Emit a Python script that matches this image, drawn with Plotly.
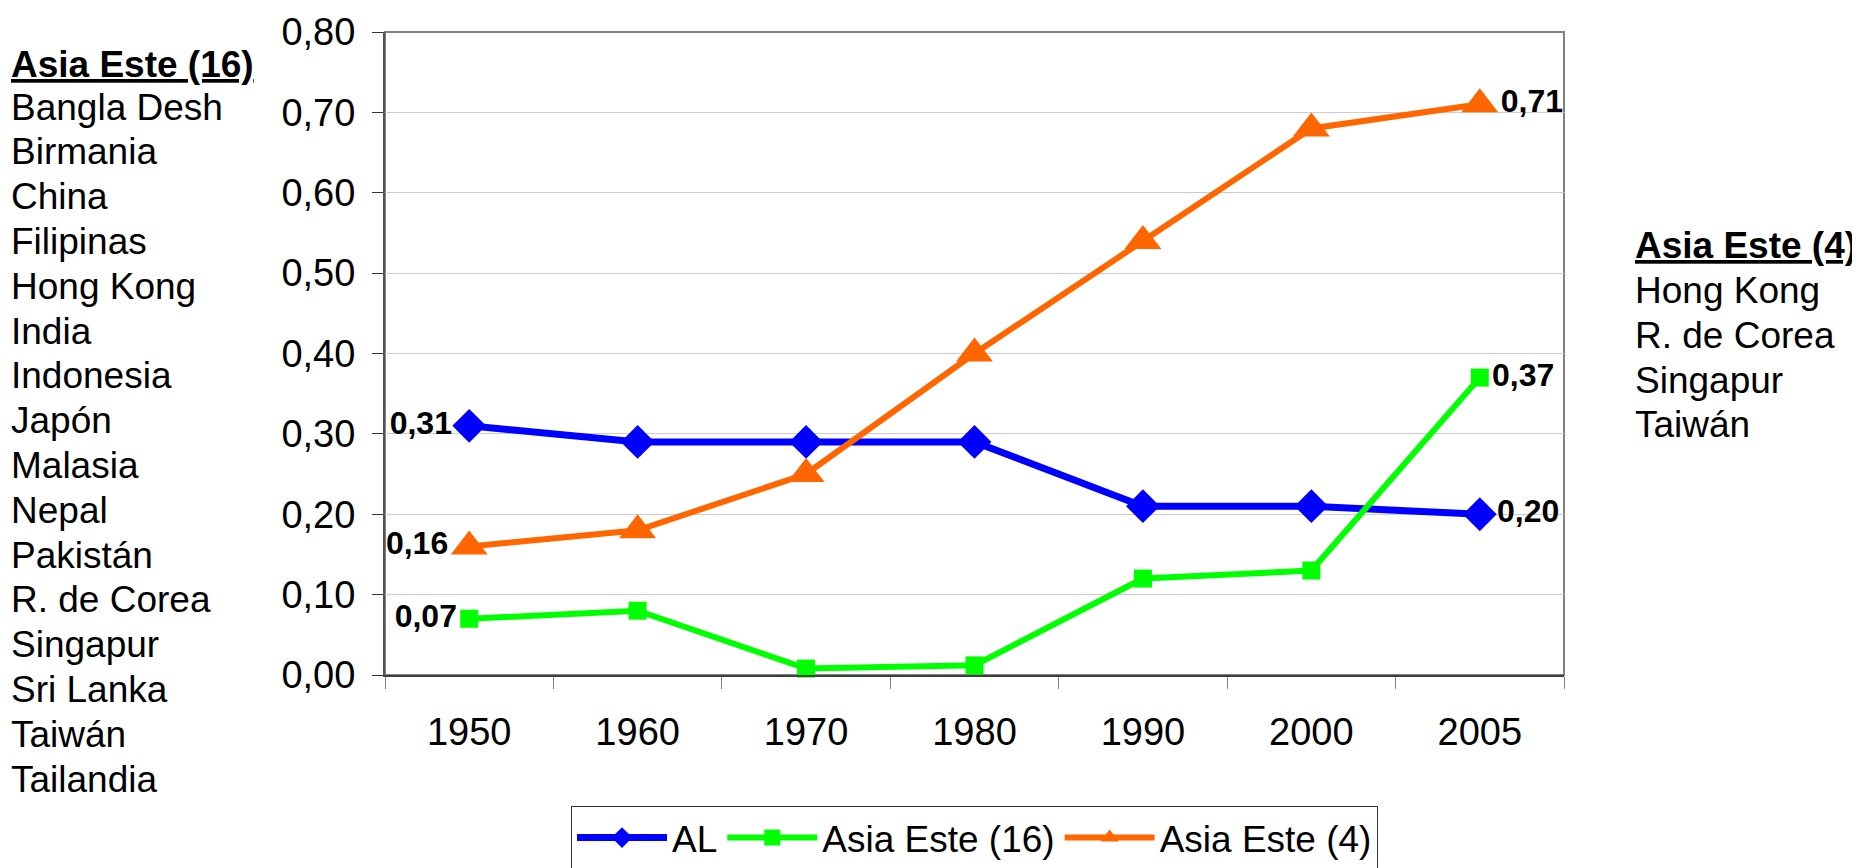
import plotly.graph_objects as go

years = ["1950", "1960", "1970", "1980", "1990", "2000", "2005"]
al = [0.31, 0.29, 0.29, 0.29, 0.21, 0.21, 0.20]
asia16 = [0.07, 0.08, 0.008, 0.012, 0.12, 0.13, 0.37]
asia4 = [0.16, 0.18, 0.25, 0.40, 0.54, 0.68, 0.71]

series_names = ["AL", "Asia Este (16)", "Asia Este (4)"]
yticks = [0.0, 0.1, 0.2, 0.3, 0.4, 0.5, 0.6, 0.7, 0.8]

left_header = "Asia Este (16)"
left_items = ["Bangla Desh", "Birmania", "China", "Filipinas", "Hong Kong", "India",
              "Indonesia", "Japón", "Malasia", "Nepal", "Pakistán", "R. de Corea",
              "Singapur", "Sri Lanka", "Taiwán", "Tailandia"]
right_header = "Asia Este (4)"
right_items = ["Hong Kong", "R. de Corea", "Singapur", "Taiwán"]

FONT = "Liberation Sans, Arial, sans-serif"
OFF = 8  # default page body margin
W, H = 1860 - OFF, 868 - OFF
# plot area in page pixels: x 385..1564, y 32..675
L = 385 - OFF
T = 32 - OFF
R = W - (1564 - OFF)
B = H - (675 - OFF)
PW, PH = W - L - R, H - T - B


def px_x(page_px):
    return (page_px - OFF - L) / PW


def px_y(page_py):
    return (H - B - (page_py - OFF)) / PH


def labels(vals):
    n = len(vals)
    return [f"{v:.2f}".replace(".", ",") if i in (0, n - 1) else "" for i, v in enumerate(vals)]


def positions(vals):
    n = len(vals)
    return ["middle left" if i == 0 else ("middle right" if i == n - 1 else "middle center") for i in range(n)]


styles = [
    dict(color="#0000FF", width=7, symbol="diamond", size=26),
    dict(color="#00FF00", width=6, symbol="square", size=18),
    dict(color="#FF6600", width=6, symbol="triangle-up", size=32),
]

fig = go.Figure()
for name, vals, st in zip(series_names, [al, asia16, asia4], styles):
    fig.add_trace(go.Scatter(
        x=years, y=vals, name=name, mode="lines+markers+text",
        line=dict(color=st["color"], width=st["width"]),
        marker=dict(symbol=st["symbol"], size=st["size"], color=st["color"]),
        text=labels(vals), textposition=positions(vals),
        textfont=dict(family=FONT, size=32, color="black", weight="bold"),
        cliponaxis=False,
    ))

TEXT_X_LEFT = 13 - 3   # compensate annotation padding
TEXT_X_RIGHT = 1637 - 3
annotations = []
annotations.append(dict(text=f"<b><u>{left_header}</u></b>", x=px_x(TEXT_X_LEFT), y=px_y(65),
                        xanchor="left", yanchor="middle"))
for i, t in enumerate(left_items):
    annotations.append(dict(text=t, x=px_x(TEXT_X_LEFT), y=px_y(107 + 44.8 * i),
                            xanchor="left", yanchor="middle"))
annotations.append(dict(text=f"<b><u>{right_header}</u></b>", x=px_x(TEXT_X_RIGHT), y=px_y(246),
                        xanchor="left", yanchor="middle"))
for i, t in enumerate(right_items):
    annotations.append(dict(text=t, x=px_x(TEXT_X_RIGHT), y=px_y(291 + 44.6 * i),
                            xanchor="left", yanchor="middle"))
for a in annotations:
    a.update(xref="paper", yref="paper", showarrow=False, borderpad=0,
             font=dict(family=FONT, size=37, color="black"))

fig.update_layout(
    width=W, height=H,
    margin=dict(l=L, r=R, t=T, b=B, autoexpand=False),
    paper_bgcolor="white", plot_bgcolor="white",
    separators=",.",
    font=dict(family=FONT, color="black"),
    showlegend=True,
    legend=dict(orientation="h", x=0.5, xanchor="center", y=px_y(806), yanchor="top",
                bordercolor="#333333", borderwidth=1, bgcolor="white",
                font=dict(family=FONT, size=37, color="black"),
                itemwidth=90, tracegroupgap=0),
    xaxis=dict(type="category", range=[-0.5, 6.5], showgrid=False,
               showline=True, linecolor="#404040", linewidth=2,
               ticks="outside", ticklen=12, tickcolor="#808080", tickwidth=1,
               tickson="boundaries", ticklabelstandoff=22,
               tickfont=dict(family=FONT, size=38, color="black"), zeroline=False),
    yaxis=dict(range=[0, 0.8], tickvals=yticks, tickformat=".2f",
               showgrid=True, gridcolor="#cccccc", gridwidth=1,
               showline=True, linecolor="#555555", linewidth=2,
               ticks="outside", ticklen=11, tickcolor="#333333", tickwidth=1,
               ticklabelstandoff=9,
               tickfont=dict(family=FONT, size=38, color="black"), zeroline=False),
    annotations=annotations,
    shapes=[dict(type="rect", xref="paper", yref="paper", x0=0, x1=1, y0=0, y1=1,
                 line=dict(color="#808080", width=2), layer="below")],
)

fig.write_html("out.html")
